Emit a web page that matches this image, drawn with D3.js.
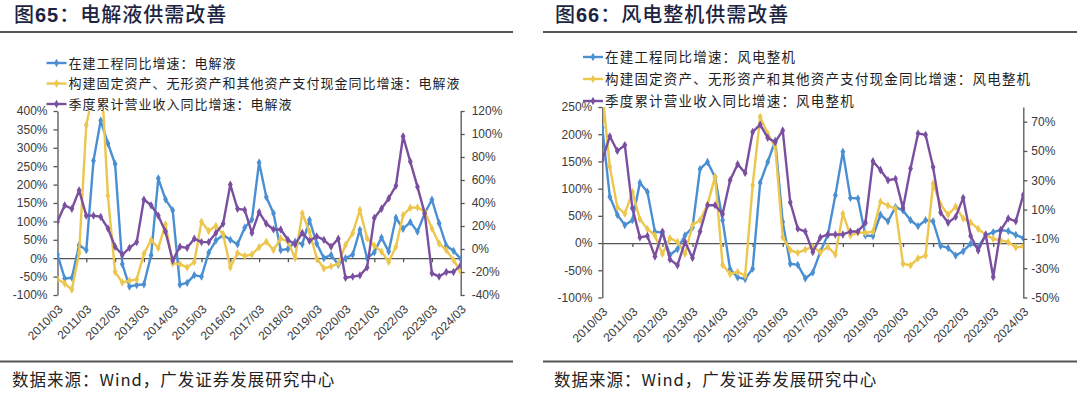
<!DOCTYPE html>
<html><head><meta charset="utf-8">
<script src="https://cdn.jsdelivr.net/npm/d3@7"></script>
<style>body{margin:0;background:#fff}svg{display:block}</style>
</head><body><svg id="c" width="1080" height="397"></svg>
<script>
// ---------- DATA ----------
const categories = [
 "2010/03","2010/06","2010/09","2010/12","2011/03","2011/06","2011/09","2011/12",
 "2012/03","2012/06","2012/09","2012/12","2013/03","2013/06","2013/09","2013/12",
 "2014/03","2014/06","2014/09","2014/12","2015/03","2015/06","2015/09","2015/12",
 "2016/03","2016/06","2016/09","2016/12","2017/03","2017/06","2017/09","2017/12",
 "2018/03","2018/06","2018/09","2018/12","2019/03","2019/06","2019/09","2019/12",
 "2020/03","2020/06","2020/09","2020/12","2021/03","2021/06","2021/09","2021/12",
 "2022/03","2022/06","2022/09","2022/12","2023/03","2023/06","2023/09","2023/12",
 "2024/03"];
const tickLabels = ["2010/03","2011/03","2012/03","2013/03","2014/03","2015/03","2016/03",
 "2017/03","2018/03","2019/03","2020/03","2021/03","2022/03","2023/03","2024/03"];

const titleLeft = ["图", "65", "：电解液供需改善"];
const titleRight = ["图", "66", "：风电整机供需改善"];
const legendLeft = ["在建工程同比增速：电解液",
  "构建固定资产、无形资产和其他资产支付现金同比增速：电解液",
  "季度累计营业收入同比增速：电解液"];
const legendRight = ["在建工程同比增速：风电整机",
  "构建固定资产、无形资产和其他资产支付现金同比增速：风电整机",
  "季度累计营业收入同比增速：风电整机"];
const sourceText = "数据来源：Wind，广发证券发展研究中心";

// Electrolyte (left axis: blue, yellow; right axis: purple)
const electrolyteCIP = [10,-55,-53,36,22,265,374,312,256,-16,-77,-73,-71,8,217,160,130,-72,-67,-46,
 -50,15,48,63,50,38,83,105,260,166,122,22,25,45,38,104,40,0,9,-18,
 0,10,77,0,16,56,18,110,80,98,72,122,159,95,34,20,-2];
const electrolyteCapex = [-57,-69,-85,14,362,455,530,170,-37,-66,-61,-58,12,49,28,92,-14,-16,-25,-10,
 99,74,88,65,-25,14,6,10,30,45,22,54,45,0,122,72,0,-28,-22,-15,
 36,68,131,54,34,18,-10,31,117,137,138,127,81,40,22,-5,-37];
const electrolyteRevenue = [24,38,35,51,29,29,28,18,2,-5,1,6,43,38,29,15,-10,2,1,9,
 6,6,14,22,56,35,34,14,32,22,17,17,8,4,14,7,11,8,2,9,
 -25,-24,-23,-16,27,35,44,55,98,76,54,31,-21,-24,-20,-20,-14];

// Wind turbines (left axis: blue, yellow; right axis: purple)
const windCIP = [212,85,52,33,42,111,94,21,19,-22,-11,14,29,136,149,121,42,-48,-63,-66,
 -47,111,149,188,39,-38,-40,-65,-54,-16,15,88,168,83,82,14,13,52,40,66,
 60,42,31,42,40,-5,-9,-23,-15,-1,-7,14,20,24,22,15,9];
const windCapex = [280,140,66,54,94,44,26,14,-20,9,2,-20,33,42,71,122,-40,-57,-53,-60,
 106,232,201,177,11,-13,-18,-12,-7,-17,-7,-21,54,14,19,19,21,76,69,63,
 -38,-41,-28,-23,109,71,52,67,45,38,26,15,8,5,2,-8,-6];
const windRevenue = [44,60,50,54,11,-9,-8,-22,-5,-24,-28,-12,-23,-5,13,13,7,30,41,35,
 63,68,59,56,64,15,-3,-5,-19,-9,-7,-7,-7,-5,-5,1,43,37,30,31,
 11,38,62,61,39,8,1,5,18,-8,-18,-7,-36,-4,4,2,20];

const electrolyteLeftTicks = [-100,-50,0,50,100,150,200,250,300,350,400];
const electrolyteRightTicks = [-40,-20,0,20,40,60,80,100,120];
const windLeftTicks = [-100,-50,0,50,100,150,200,250];
const windRightTicks = [-50,-30,-10,10,30,50,70];

// ---------- STYLE ----------
const COLORS = ["#4a8fd2", "#edc64e", "#7a4f9f"];
const CJK = "'Noto Sans CJK SC','Noto Sans',sans-serif";
const LAT = "'Liberation Sans',Arial,sans-serif";
const svg = d3.select("#c");

function panel(o) {
  const g = svg.append("g");
  // title
  const t = g.append("text").attr("x", o.titleX).attr("y", 22)
    .attr("fill", "#1b2440").attr("font-size", 20).attr("letter-spacing", 1)
    .attr("font-family", CJK);
  t.append("tspan").attr("font-weight", 500).text(o.title[0]);
  t.append("tspan").attr("font-family", LAT).attr("font-weight", "bold").text(o.title[1]);
  t.append("tspan").attr("font-weight", 500).text(o.title[2]);
  // rules
  g.append("line").attr("x1", o.ruleX0).attr("x2", o.ruleX1).attr("y1", 32).attr("y2", 32)
    .attr("stroke", "#555").attr("stroke-width", 2);
  g.append("line").attr("x1", o.ruleX0).attr("x2", o.ruleX1).attr("y1", 361.5).attr("y2", 361.5)
    .attr("stroke", "#555").attr("stroke-width", 2);
  g.append("text").attr("x", o.sourceX).attr("y", 386).attr("font-size", 16.5)
    .attr("letter-spacing", 1).attr("fill", "#222").attr("font-family", CJK).text(sourceText);

  const x = d3.scalePoint().domain(categories).range([o.x0, o.x1]);
  const yL = d3.scaleLinear().domain(o.leftDomain).range([o.yB, o.yT]);
  const yR = d3.scaleLinear().domain(o.rightDomain).range([o.yB, o.yT]);

  // axes
  const axL = g.append("g").attr("transform", `translate(${o.x0},0)`)
    .call(d3.axisLeft(yL).tickValues(o.leftTicks).tickFormat(d => d + "%").tickSize(4).tickSizeOuter(0).tickPadding(6));
  const axR = g.append("g").attr("transform", `translate(${o.x1},0)`)
    .call(d3.axisRight(yR).tickValues(o.rightTicks).tickFormat(d => d + "%").tickSize(4).tickSizeOuter(0).tickPadding(o.rPad));
  const axX = g.append("g").attr("transform", `translate(0,${yL(0)})`)
    .call(d3.axisBottom(x).tickValues(tickLabels.slice(1, -1)).tickFormat("").tickSize(4).tickSizeOuter(0));
  [axL, axR, axX].forEach(a => {
    a.selectAll("path,line").attr("stroke", "#555").attr("stroke-width", 1.3);
    a.selectAll("text").attr("font-family", LAT).attr("font-size", 12).attr("fill", "#3a3a3a");
  });
  // x labels at bottom
  g.append("g").selectAll("text").data(tickLabels).join("text")
    .attr("transform", d => `translate(${x(d) + 6},${o.yB + 15}) rotate(-45)`)
    .attr("text-anchor", "end").attr("font-family", LAT).attr("font-size", 12).attr("fill", "#3a3a3a")
    .text(d => d);

  // clip
  const cid = "clip" + o.id;
  svg.append("defs").append("clipPath").attr("id", cid).append("rect")
    .attr("x", o.x0).attr("y", o.yT).attr("width", o.x1 - o.x0).attr("height", o.yB - o.yT);
  const plot = g.append("g").attr("clip-path", `url(#${cid})`);
  const series = [[o.s[0], yL], [o.s[1], yL], [o.s[2], yR]];
  series.forEach(([vals, ys], k) => {
    const pts = vals.map((v, i) => [x(categories[i]), ys(v)]);
    plot.append("path").attr("d", d3.line()(pts)).attr("fill", "none")
      .attr("stroke", COLORS[k]).attr("stroke-width", 2.4).attr("stroke-linejoin", "round");
    plot.append("g").selectAll("path").data(pts).join("path")
      .attr("transform", p => `translate(${p[0]},${p[1]})`)
      .attr("d", d3.symbol(d3.symbolDiamond, 20)).attr("fill", COLORS[k]);
  });

  // legend
  o.legend.forEach((txt, k) => {
    const ly = o.legY[k];
    g.append("line").attr("x1", o.legX).attr("x2", o.legX + 20).attr("y1", ly).attr("y2", ly)
      .attr("stroke", COLORS[k]).attr("stroke-width", 2.4);
    g.append("path").attr("transform", `translate(${o.legX + 10},${ly})`)
      .attr("d", d3.symbol(d3.symbolDiamond, 20)).attr("fill", COLORS[k]);
    g.append("text").attr("x", o.legX + 22).attr("y", ly).attr("dy", "0.36em")
      .attr("font-family", CJK).attr("font-size", o.legFont).attr("letter-spacing", o.legSp)
      .attr("fill", "#1e1e1e").text(txt);
  });
}

panel({id: "L", title: titleLeft, titleX: 14, ruleX0: 0, ruleX1: 513, sourceX: 12,
  x0: 57.5, x1: 460.7, yT: 111, yB: 295, leftDomain: [-100, 400], rightDomain: [-40, 120],
  leftTicks: electrolyteLeftTicks, rightTicks: electrolyteRightTicks, rPad: 7,
  s: [electrolyteCIP, electrolyteCapex, electrolyteRevenue],
  legend: legendLeft, legX: 46.5, legY: [63, 83.5, 104], legFont: 13, legSp: 1});

panel({id: "R", title: titleRight, titleX: 555, ruleX0: 543, ruleX1: 1077, sourceX: 554,
  x0: 602.3, x1: 1023.3, yT: 107, yB: 297.5, leftDomain: [-100, 250], rightDomain: [-50, 80],
  leftTicks: windLeftTicks, rightTicks: windRightTicks, rPad: 4,
  s: [windCIP, windCapex, windRevenue],
  legend: legendRight, legX: 583, legY: [57, 79, 101], legFont: 13.5, legSp: 1.2});
</script></body></html>
